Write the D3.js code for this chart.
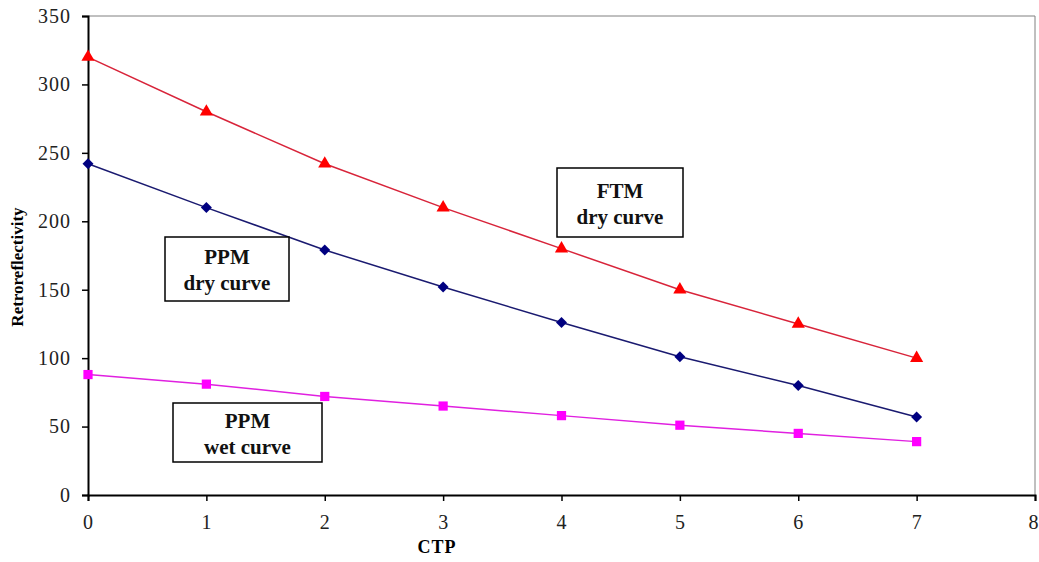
<!DOCTYPE html>
<html>
<head>
<meta charset="utf-8">
<script src="https://cdn.jsdelivr.net/npm/d3@7"></script>
<style>
  body { margin: 0; background: #fff; }
  svg { display: block; font-family: "Liberation Serif", "DejaVu Serif", serif; }
</style>
</head>
<body>
<div id="chart"></div>
<script>
// Data
const ctp = [0, 1, 2, 3, 4, 5, 6, 7];
const ftmDry = [320, 280, 242, 210, 180, 150, 125, 100];
const ppmDry = [242, 210, 179, 152, 126, 101, 80, 57];
const ppmWet = [88, 81, 72, 65, 58, 51, 45, 39];
const yTicks = [0, 50, 100, 150, 200, 250, 300, 350];
const xTicks = [0, 1, 2, 3, 4, 5, 6, 7, 8];

const W = 1039, H = 562;
const margin = { top: 16, right: 4, bottom: 67, left: 88 };

const svg = d3.select("#chart").append("svg")
  .attr("width", W)
  .attr("height", H);

const x = d3.scaleLinear().domain([0, 8]).range([margin.left, W - margin.right]);
const y = d3.scaleLinear().domain([0, 350]).range([H - margin.bottom, margin.top]);

// plot frame (top + right, grey)
svg.append("path")
  .attr("d", `M${x(0)},${y(350)}H${x(8)}V${y(0)}`)
  .attr("fill", "none")
  .attr("stroke", "#808080")
  .attr("stroke-width", 1);

// axes
const yAxis = svg.append("g")
  .attr("transform", `translate(${x(0)},0)`)
  .call(d3.axisLeft(y).tickValues(yTicks).tickSize(6).tickPadding(11));
const xAxis = svg.append("g")
  .attr("transform", `translate(0,${y(0)})`)
  .call(d3.axisBottom(x).tickValues(xTicks).tickSize(6).tickPadding(14));

[yAxis, xAxis].forEach(g => {
  g.select(".domain").attr("stroke", "#000").attr("stroke-width", 2);
  g.selectAll(".tick line").attr("stroke", "#000").attr("stroke-width", 1.5);
  g.selectAll(".tick text")
    .attr("fill", "#222")
    .style("font-family", "'Liberation Serif', serif")
    .style("font-size", "20px")
    .style("letter-spacing", "1px");
});

// last x label sits at the right edge; keep it inside the window
xAxis.selectAll(".tick text").filter(d => d === 8)
  .attr("text-anchor", "end")
  .attr("dx", 4);

// diamond drawn as a square turned 45 degrees
const squareDiamond = {
  draw(ctx, size) {
    const r = Math.sqrt(size / 2);
    ctx.moveTo(0, -r); ctx.lineTo(r, 0); ctx.lineTo(0, r); ctx.lineTo(-r, 0); ctx.closePath();
  }
};

// series
const series = [
  { name: "ftm", values: ftmDry, line: "#d8243a", fill: "#ff0000", shape: d3.symbolTriangle, size: 75 },
  { name: "ppmDry", values: ppmDry, line: "#1a1a70", fill: "#000080", shape: squareDiamond, size: 60 },
  { name: "ppmWet", values: ppmWet, line: "#e020e0", fill: "#ff00ff", shape: d3.symbolSquare, size: 85 }
];

const line = d3.line().x((d, i) => x(ctp[i])).y(d => y(d));

series.forEach(s => {
  svg.append("path")
    .datum(s.values)
    .attr("fill", "none")
    .attr("stroke", s.line)
    .attr("stroke-width", 1.5)
    .attr("d", line);

  svg.selectAll(`.pt-${s.name}`)
    .data(s.values)
    .join("path")
    .attr("class", `pt-${s.name}`)
    .attr("transform", (d, i) => `translate(${x(ctp[i])},${y(d)})`)
    .attr("d", d3.symbol().type(s.shape).size(s.size))
    .attr("fill", s.fill);
});

// annotation boxes
const notes = [
  { lines: ["FTM", "dry curve"], x0: 557, y0: 168, x1: 683, y1: 237 },
  { lines: ["PPM", "dry curve"], x0: 165, y0: 237, x1: 289, y1: 301 },
  { lines: ["PPM", "wet curve"], x0: 173, y0: 403, x1: 322, y1: 462 }
];

notes.forEach(n => {
  svg.append("rect")
    .attr("x", n.x0).attr("y", n.y0)
    .attr("width", n.x1 - n.x0).attr("height", n.y1 - n.y0)
    .attr("fill", "#fff")
    .attr("stroke", "#000")
    .attr("stroke-width", 1.5);
  const cx = (n.x0 + n.x1) / 2, cy = (n.y0 + n.y1) / 2;
  n.lines.forEach((t, i) => {
    svg.append("text")
      .attr("x", cx)
      .attr("y", cy + (i === 0 ? -5 : 21))
      .attr("text-anchor", "middle")
      .style("font-size", "21px")
      .style("font-weight", "bold")
      .attr("fill", "#111")
      .text(t);
  });
});

// axis titles
svg.append("text")
  .attr("x", 437).attr("y", 553)
  .attr("text-anchor", "middle")
  .style("font-size", "18px")
  .style("font-weight", "bold")
  .style("letter-spacing", "1px")
  .text("CTP");

svg.append("text")
  .attr("transform", "translate(23,267) rotate(-90)")
  .attr("text-anchor", "middle")
  .style("font-size", "17px")
  .style("font-weight", "bold")
  .text("Retroreflectivity");
</script>
</body>
</html>
